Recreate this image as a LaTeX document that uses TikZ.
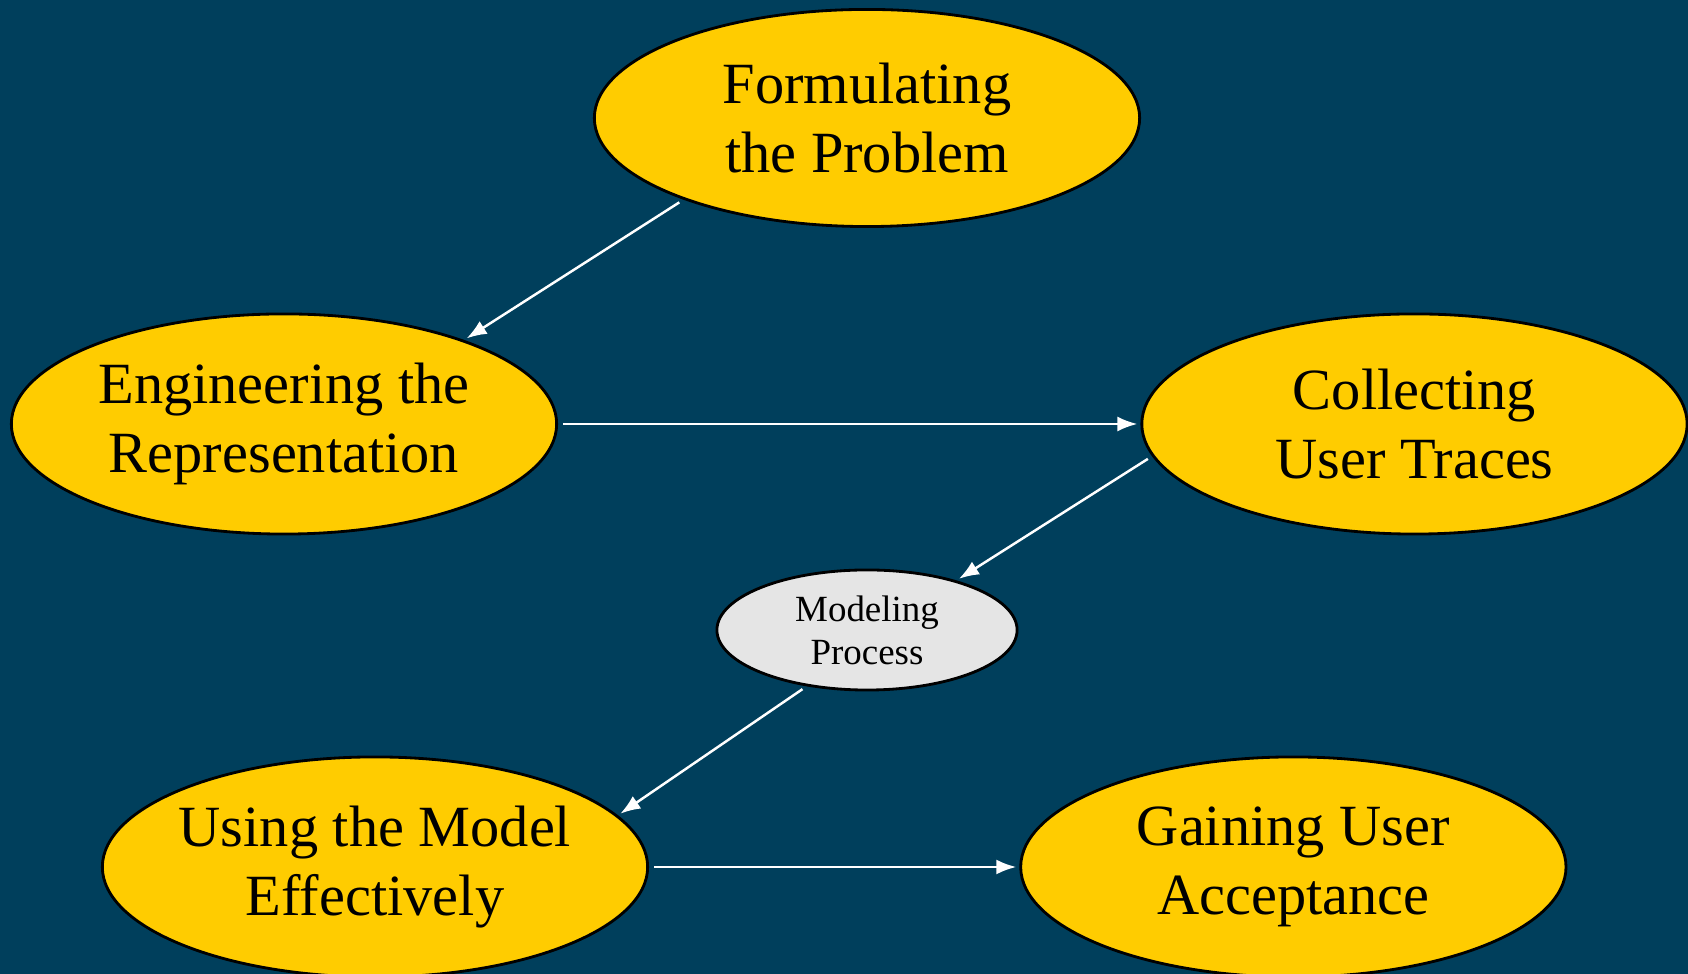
\documentclass[tikz,border=0pt]{standalone}
\usepackage{fontspec}
\setmainfont{Liberation Serif}
\usepackage{xcolor}
\usetikzlibrary{arrows.meta}
\usetikzlibrary{positioning}
\usetikzlibrary{shapes.geometric}

\definecolor{slide}{RGB}{0,63,92}
\definecolor{gold}{RGB}{255,204,0}
\definecolor{pale}{RGB}{229,229,229}

\begin{document}
\begin{tikzpicture}
[
	x = 0.01cm, y = -0.01cm,
	stage/.style = {ellipse, draw = black, line width = 0.8pt, fill = gold, minimum width = 5.45cm, minimum height = 2.2cm, inner xsep = -0.12cm, inner ysep = 0cm, align = center, font = \fontsize{16.6}{19.4}\selectfont},
	core/.style = {ellipse, draw = black, line width = 0.8pt, fill = pale, minimum width = 3.0cm, minimum height = 1.2cm, inner sep = 0cm, align = center, font = \fontsize{10.5}{12.2}\selectfont},
	flow/.style = {-{Latex[length = 0.2cm, width = 0.15cm]}, draw = white, line width = 0.7pt, shorten < = 0.05cm, shorten > = 0.03cm},
]

	% background
	\useasboundingbox (0, 0) rectangle (1688, 974);
	\fill [slide] (0, 0) rectangle (1688, 974);

	% stages
	\node (form) [stage, minimum height = 2.17cm] at (867, 118) {Formulating\\the Problem};
	\node (eng) [stage] at (284, 424) {Engineering the\\Representation};
	\node (coll) [stage, right = 5.82cm of eng] {Collecting\\User Traces};
	%
	\node (model) [core] at (867, 630) {Modeling\\Process};
	%
	\node (use) [stage] at (375, 867) {Using the Model\\Effectively};
	\node (gain) [stage, right = 3.70cm of use] {Gaining User\\Acceptance};

	% paths
	\draw [flow] (form.204) -- (eng.25);
	\draw [flow] (eng.east) -- (coll.west);
	\draw [flow] (coll.187) -- (model.29);
	\draw [flow] (model.223) -- (use.12);
	\draw [flow] (use.east) -- (gain.west);

\end{tikzpicture}
\end{document}
